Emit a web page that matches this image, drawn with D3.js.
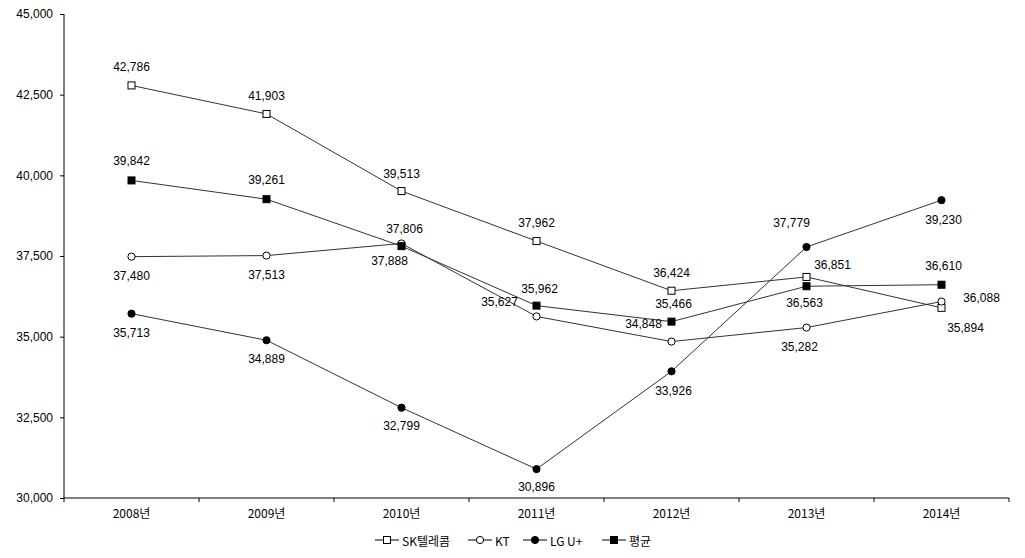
<!DOCTYPE html>
<html><head><meta charset="utf-8">
<script src="https://cdn.jsdelivr.net/npm/d3@7"></script>
<style>
body{margin:0;background:#fff;}
text{font-family:"Liberation Sans Narrow","Liberation Sans","Noto Sans CJK KR",sans-serif;font-size:12px;fill:#000;}
.kr{font-family:"Liberation Sans Narrow","Noto Sans CJK KR",sans-serif;}
</style></head>
<body>
<svg id="c" width="1025" height="558"></svg>
<script>
const categories = ["2008년","2009년","2010년","2011년","2012년","2013년","2014년"];
const seriesNames = ["SK텔레콤","KT","LG U+","평균"];
const skValues  = [42786, 41903, 39513, 37962, 36424, 36851, 35894];
const ktValues  = [37480, 37513, 37888, 35627, 34848, 35282, 36088];
const lgValues  = [35713, 34889, 32799, 30896, 33926, 37779, 39230];
const avgValues = [39842, 39261, 37806, 35962, 35466, 36563, 36610];
const yTicks = [30000, 32500, 35000, 37500, 40000, 42500, 45000];

// label offsets (layout only)
const skLabel  = [[0,-18],[0,-18],[0,-17],[0,-18],[0,-18],[26,-12],[24,20]];
const ktLabel  = [[0,19],[0,19],[-12,18],[-37,-14],[-28,-18],[-7,19],[40,-4]];
const lgLabel  = [[0,19],[0,19],[0,18],[0,18],[2,20],[-15,-24],[2,20]];
const avgLabel = [[0,-19],[0,-19],[3,-17],[3,-17],[2,-18],[-2,17],[2,-19]];

const svg = d3.select("#c");
const x = d3.scaleBand().domain(categories).range([64,1009]).padding(0);
const y = d3.scaleLinear().domain([30000,45000]).range([498,14]);
const fmt = d3.format(",");
const lineColor = "#333";

// y axis
const ya = svg.append("g").attr("transform","translate(64,0)")
  .call(d3.axisLeft(y).tickValues(yTicks).tickSize(4).tickPadding(7).tickFormat(fmt));
ya.select(".domain").attr("stroke","#000").attr("d","M0,14V498");
ya.selectAll(".tick line").attr("stroke","#000");
ya.selectAll("text").style("font-size","12px");

// x axis
const xa = svg.append("g").attr("transform","translate(0,498)");
xa.append("line").attr("x1",64).attr("x2",1009).attr("y1",0).attr("y2",0).attr("stroke","#000");
const bounds = categories.map((c,i)=>x(c)+x.bandwidth()).concat([x(categories[0])]);
xa.selectAll("line.t").data(bounds).enter().append("line")
  .attr("x1",d=>d).attr("x2",d=>d).attr("y1",0).attr("y2",4).attr("stroke","#000");
xa.selectAll("text").data(categories).enter().append("text").attr("class","kr")
  .attr("x",d=>x(d)+x.bandwidth()/2).attr("y",20).attr("text-anchor","middle").text(d=>d);

const cx = (i)=>x(categories[i])+x.bandwidth()/2;
const series = [
  {name:seriesNames[0], v:skValues, lab:skLabel, shape:"square", fill:"#fff"},
  {name:seriesNames[1], v:ktValues, lab:ktLabel, shape:"circle", fill:"#fff"},
  {name:seriesNames[2], v:lgValues, lab:lgLabel, shape:"circle", fill:"#000"},
  {name:seriesNames[3], v:avgValues, lab:avgLabel, shape:"square", fill:"#000"}
];
const line = d3.line().x((d,i)=>cx(i)).y(d=>y(d));

function marker(g, shape, fill, px, py){
  if(shape==="square"){
    g.append("rect").attr("x",px-3.5).attr("y",py-3.5).attr("width",7).attr("height",7)
      .attr("fill",fill).attr("stroke","#000").attr("stroke-width",1);
  } else {
    g.append("circle").attr("cx",px).attr("cy",py).attr("r",3.6)
      .attr("fill",fill).attr("stroke","#000").attr("stroke-width",1);
  }
}

series.forEach(s=>{
  svg.append("path").datum(s.v).attr("d",line).attr("fill","none")
    .attr("stroke",lineColor).attr("stroke-width",1);
});
series.forEach(s=>{
  const g = svg.append("g");
  s.v.forEach((d,i)=>marker(g,s.shape,s.fill,cx(i),y(d)));
});
series.forEach(s=>{
  svg.append("g").selectAll("text").data(s.v).enter().append("text")
    .attr("x",(d,i)=>cx(i)+s.lab[i][0]).attr("y",(d,i)=>y(d)+s.lab[i][1])
    .attr("text-anchor","middle").attr("dominant-baseline","central")
    .text(d=>fmt(d));
});

// legend
const legX = [375, 468, 523, 602];
const lg = svg.append("g").attr("transform","translate(0,540)");
series.forEach((s,i)=>{
  const g = lg.append("g").attr("transform",`translate(${legX[i]},0)`);
  g.append("line").attr("x1",0).attr("x2",24).attr("y1",0).attr("y2",0).attr("stroke","#000");
  marker(g,s.shape,s.fill,12,0);
  g.append("text").attr("class","kr").attr("x",27).attr("y",0).attr("dominant-baseline","central").text(s.name);
});
</script>
</body></html>
